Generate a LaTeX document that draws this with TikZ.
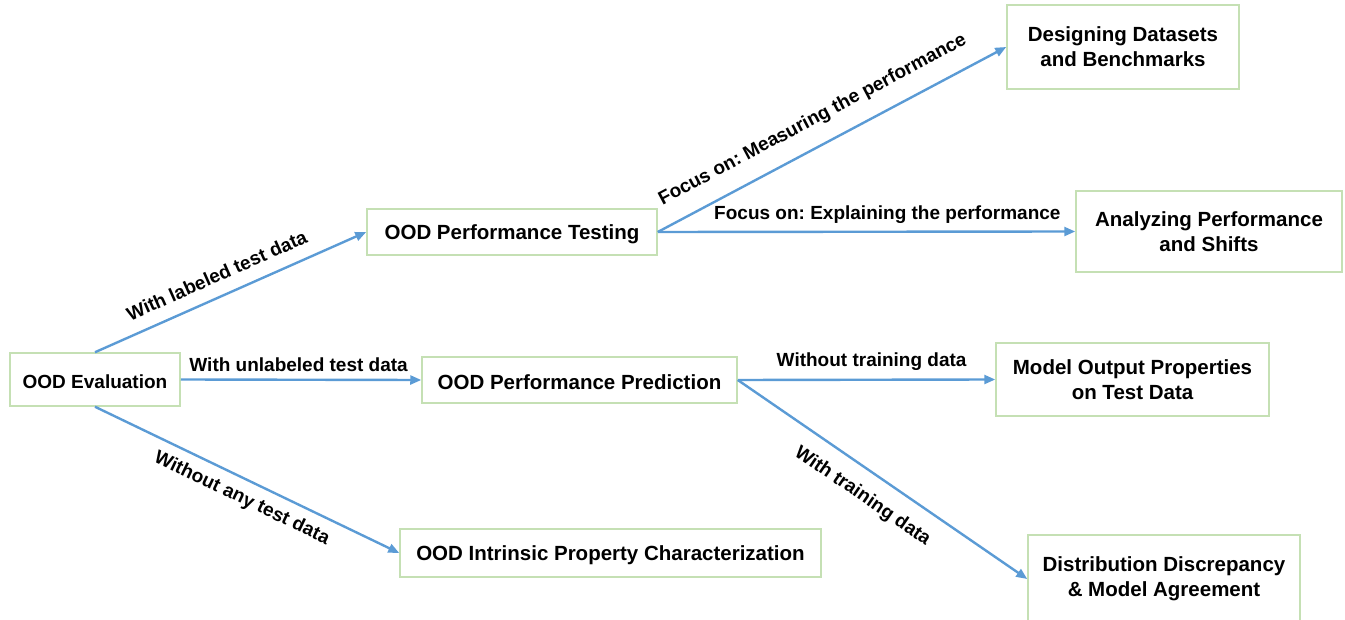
\documentclass[tikz,border=0pt]{standalone}
\usepackage{fontspec}
\setmainfont{Liberation Sans}
\usetikzlibrary{arrows.meta}
\definecolor{boxgreen}{RGB}{197,224,180}
\definecolor{arrowblue}{RGB}{91,155,213}
\frenchspacing
\begin{document}
\begin{tikzpicture}[x=1pt,y=-1pt,
  box/.style={draw=boxgreen,line width=1.5pt,inner sep=0pt,align=center,
    font=\fontsize{20.5}{25}\selectfont\bfseries,
    execute at begin node={\rule{0pt}{19pt}}},
  conn/.style={draw=arrowblue,line width=2.4pt,-{Triangle[length=11pt,width=9pt]}},
  lab/.style={font=\fontsize{19}{22}\selectfont\bfseries,inner sep=0pt,
    text height=14pt,text depth=0pt,sloped}]
\useasboundingbox (0,0) rectangle (1345,620);
\clip (0,0) rectangle (1345,620);

\node[box,minimum width=170pt,minimum height=53pt,font=\fontsize{19}{25}\selectfont\bfseries,execute at begin node={}] (eval) at (95,379.5) {OOD Evaluation};
\node[box,minimum width=290pt,minimum height=46pt] (test) at (512,232) {OOD Performance Testing};
\node[box,minimum width=315pt,minimum height=46pt] (pred) at (579.5,380) {OOD Performance Prediction};
\node[box,minimum width=421pt,minimum height=48pt] (intr) at (610.5,553) {OOD Intrinsic Property Characterization};
\node[box,minimum width=232pt,minimum height=84pt] (design) at (1123,47) {Designing Datasets\\and Benchmarks};
\node[box,minimum width=266pt,minimum height=81pt] (analyze) at (1209,231.5) {Analyzing Performance\\and Shifts};
\node[box,minimum width=273pt,minimum height=73pt] (modelout) at (1132.5,379.5) {Model Output Properties\\on Test Data};
\node[box,minimum width=272pt,minimum height=88pt] (distr) at (1164,579) {Distribution Discrepancy\\\& Model Agreement};

\draw[conn] (eval.north) -- node[lab,pos=0.48,above=13pt] (l1) {With labeled test data} (test.west);
\draw[conn] (eval.east) -- node[lab,pos=0.49,above=7pt] (l2) {With unlabeled test data} (pred.west);
\draw[conn] (eval.south) -- node[lab,pos=0.51,below=9pt] (l3) {Without any test data} (intr.west);
\draw[conn] (test.east) -- node[lab,pos=0.48,above=20pt] (l4) {Focus on: Measuring the performance} (design.west);
\draw[conn] (test.east) -- node[lab,pos=0.55,above=11pt] (l5) {Focus on: Explaining the performance} (analyze.west);
\draw[conn] (pred.east) -- node[lab,pos=0.52,above=12pt] (l6) {Without training data} (modelout.west);
\draw[conn] (pred.east) -- node[lab,pos=0.48,below=15pt] (l7) {With training data} (distr.west);
\end{tikzpicture}
\end{document}
